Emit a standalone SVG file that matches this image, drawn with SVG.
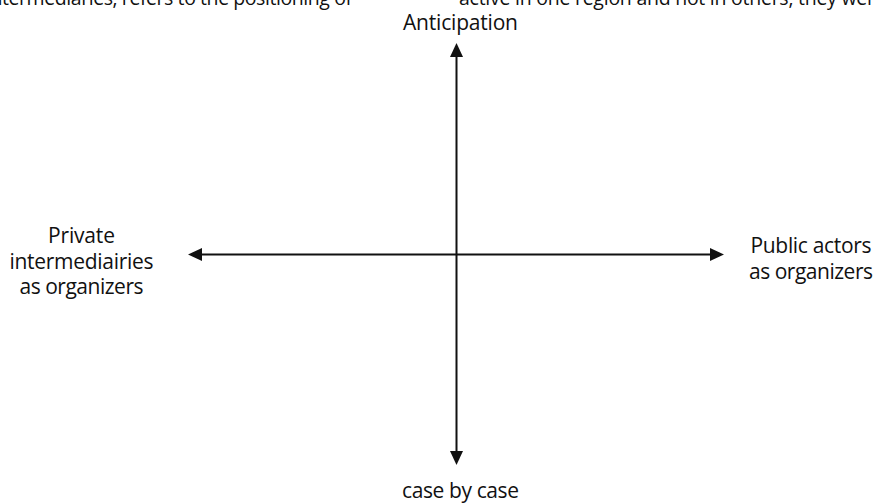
<svg xmlns="http://www.w3.org/2000/svg" width="875" height="503" viewBox="0 0 875 503">
  <style>
    .lbl { font-family: "Open Sans", "Liberation Sans", sans-serif; font-size: 21px; fill: #111; }
    .body { font-family: "Open Sans", "Liberation Sans", sans-serif; font-size: 19.5px; fill: #111; }
    .axis { stroke: #111; stroke-width: 2; fill: none; }
  </style>
  <defs>
    <marker id="arrow" markerUnits="userSpaceOnUse" markerWidth="14" markerHeight="13" refX="0" refY="6.5" orient="auto-start-reverse" viewBox="0 0 14 13">
      <path d="M0,0 L14,6.5 L0,13 Z" fill="#111"/>
    </marker>
  </defs>
  <rect width="875" height="503" fill="#fff"/>

  <g id="page-text">
    <text class="body" x="-14" y="5" textLength="366">intermediaries, refers to the positioning of</text>
    <text class="body" x="459" y="5" textLength="416">active in one region and not in others, they wer</text>
  </g>

  <g id="connectors">
    <line class="axis" x1="456.5" y1="57" x2="456.5" y2="451" marker-start="url(#arrow)" marker-end="url(#arrow)"/>
    <line class="axis" x1="202" y1="254.5" x2="710" y2="254.5" marker-start="url(#arrow)" marker-end="url(#arrow)"/>
  </g>

  <g id="anticipation">
    <text class="lbl" x="403" y="29.5" textLength="115">Anticipation</text>
  </g>

  <g id="case-by-case">
    <text class="lbl" x="402" y="498" textLength="117">case by case</text>
  </g>

  <g id="private-intermediairies">
    <text class="lbl" x="48" y="243" textLength="67">Private</text>
    <text class="lbl" x="9.5" y="268.5" textLength="144">intermediairies</text>
    <text class="lbl" x="19.5" y="294" textLength="124">as organizers</text>
  </g>

  <g id="public-actors">
    <text class="lbl" x="750.5" y="253" textLength="121">Public actors</text>
    <text class="lbl" x="749" y="278.5" textLength="124">as organizers</text>
  </g>
</svg>
